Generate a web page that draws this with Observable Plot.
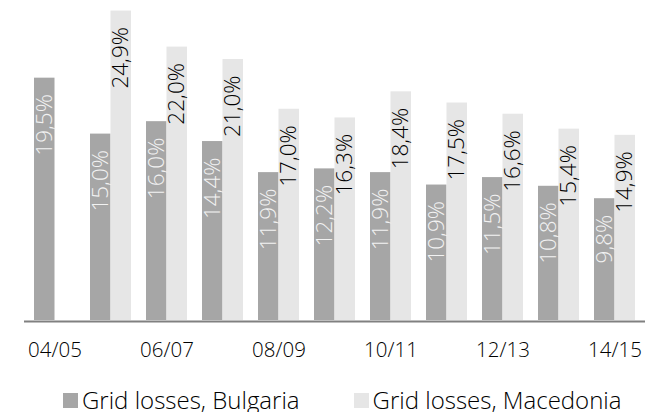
<!DOCTYPE html>
<html><head><meta charset="utf-8">
<script src="https://cdn.jsdelivr.net/npm/d3@7"></script>
<script src="https://cdn.jsdelivr.net/npm/@observablehq/plot@0.6"></script>
<style>
body{margin:0;background:#fff;font-family:"Open Sans",sans-serif;}
#chart{width:654px;}
.lg-swatches{padding-left:63px !important;font-family:"Open Sans",sans-serif !important;font-weight:300 !important;font-size:24px !important;line-height:1 !important;color:#000 !important;margin:8px 0 0 0 !important;min-height:24px !important;height:24px !important;flex-wrap:nowrap !important;white-space:nowrap !important;}
.lg-swatch{margin-right:54px !important;white-space:nowrap !important;}
.lg-swatch:last-child{margin-right:0 !important;}
.lg-swatch > svg{margin-right:4px !important;}
</style></head><body><div id="chart"></div>
<script>
const categories = ["04/05","05/06","06/07","07/08","08/09","09/10","10/11","11/12","12/13","13/14","14/15"];
const bulgaria = [19.5, 15.0, 16.0, 14.4, 11.9, 12.2, 11.9, 10.9, 11.5, 10.8, 9.8];
const macedonia = [null, 24.9, 22.0, 21.0, 17.0, 16.3, 18.4, 17.5, 16.6, 15.4, 14.9];
const xTicks = ["04/05","06/07","08/09","10/11","12/13","14/15"];
const seriesNames = ["Grid losses, Bulgaria","Grid losses, Macedonia"];
const seriesColors = ["#a6a6a6","#e6e6e6"];
const labelColors = ["#f2f2f2","#000000"];

const fmt = v => v.toFixed(1).replace(".", ",") + "%";
const bg = categories.map((c, i) => ({cat: c, value: bulgaria[i]})).filter(d => d.value != null);
const mk = categories.map((c, i) => ({cat: c, value: macedonia[i]})).filter(d => d.value != null);

const plot = Plot.plot({
  width: 654, height: 380,
  marginLeft: 24, marginRight: 9, marginTop: 0, marginBottom: 60,
  style: {fontFamily: '"Open Sans", sans-serif', fontSize: "20.5px", fontWeight: 300, color: "#000", background: "#fff"},
  x: {domain: categories, paddingInner: 0.273, paddingOuter: 0.136, label: null},
  y: {domain: [0, 25.75], axis: null},
  marks: [
    Plot.barY(bg, {x: "cat", y: "value", fill: seriesColors[0], insetLeft: 0, insetRight: 20.5}),
    Plot.barY(mk, {x: "cat", y: "value", fill: seriesColors[1], insetLeft: 20.5, insetRight: 0}),
    Plot.text(bg, {x: "cat", y: "value", text: d => fmt(d.value), rotate: -90, textAnchor: "end", lineAnchor: "middle", dx: -10.27, dy: 16, fill: labelColors[0], fontSize: 22.5, fontWeight: 300}),
    Plot.text(mk, {x: "cat", y: "value", text: d => fmt(d.value), rotate: -90, textAnchor: "end", lineAnchor: "middle", dx: 10.27, dy: 16, fill: labelColors[1], fontSize: 22.5, fontWeight: 300}),
    Plot.ruleY([0], {stroke: "#808080", strokeWidth: 2, dy: 1}),
    Plot.axisX({ticks: xTicks, tickSize: 0, tickPadding: 22, label: null, fontWeight: 300})
  ]
});
document.getElementById("chart").append(plot);

const legend = Plot.legend({
  color: {type: "ordinal", domain: seriesNames, range: seriesColors},
  swatchSize: 15,
  className: "lg"
});
document.getElementById("chart").append(legend);
</script>
</body></html>
